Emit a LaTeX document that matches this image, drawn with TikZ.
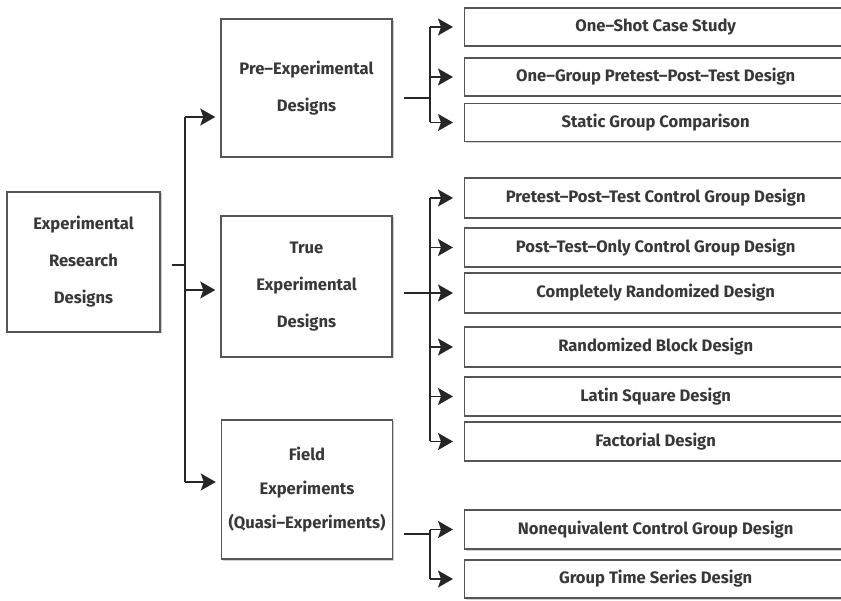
\documentclass[tikz,border=0pt]{standalone}
\usepackage{fontspec}
\setmainfont{Fira Sans}
\usetikzlibrary{arrows.meta,shadows}
\definecolor{boxgray}{HTML}{555555}
\definecolor{textgray}{HTML}{383838}
\tikzset{
  boxbase/.style={draw=boxgray, line width=1.4pt, fill=white, text=textgray,
    font=\fontsize{16.6}{37}\selectfont\bfseries, align=center, inner sep=0pt,
    drop shadow={shadow xshift=1.5pt, shadow yshift=-1.5pt, fill=black!18, opacity=1}},
  catbox/.style={boxbase, minimum width=171pt},
  leafbox/.style={boxbase, minimum width=382pt, minimum height=38pt, anchor=west},
  conn/.style={draw=black!85, line width=1.7pt},
  arr/.style={conn, -{Stealth[length=15pt,width=17pt,inset=3pt]}},
}
\begin{document}
\begin{tikzpicture}[x=1pt,y=-1pt]
\useasboundingbox (0,0) rectangle (841,601);
% root
\node[boxbase, minimum width=153pt, minimum height=140pt] (root) at (83.5,262) {Experimental\\Research\\Designs};
% categories
\node[catbox, minimum height=138pt] (pre) at (306.5,88) {Pre–Experimental\\Designs};
\node[catbox, minimum height=141pt] (true) at (306.5,286.5) {True\\Experimental\\Designs};
\node[catbox, minimum height=139pt, font=\fontsize{16.6}{34}\selectfont\bfseries] (field) at (307,489.5) {Field\\Experiments\\(Quasi–Experiments)};
% leaves
\node[leafbox] (l1) at (464,27) {One–Shot Case Study};
\node[leafbox] (l2) at (464,77) {One–Group Pretest–Post–Test Design};
\node[leafbox] (l3) at (464,122.5) {Static Group Comparison};
\node[leafbox, minimum height=40pt] (l4) at (464,198) {Pretest–Post–Test Control Group Design};
\node[leafbox, minimum height=39pt] (l5) at (464,247.5) {Post–Test–Only Control Group Design};
\node[leafbox, minimum height=40pt] (l6) at (464,293) {Completely Randomized Design};
\node[leafbox, minimum height=40pt] (l7) at (464,347) {Randomized Block Design};
\node[leafbox, minimum height=39pt] (l8) at (464,396.5) {Latin Square Design};
\node[leafbox, minimum height=39pt] (l9) at (464,441.5) {Factorial Design};
\node[leafbox, minimum height=39pt] (l10) at (464,529.5) {Nonequivalent Control Group Design};
\node[leafbox, minimum height=38pt] (l11) at (464,579) {Group Time Series Design};
% junction coordinates
\coordinate (r0) at (172,265);
\coordinate (rj) at (185,265);
\coordinate (rt) at (185,117);
\coordinate (rb) at (185,482);
\coordinate (pj) at (430,98);
\coordinate (tj) at (430,293);
\coordinate (fj) at (430,534);
% main trunk
\draw[conn] (r0) -- (rj);
\draw[conn] (rt) -- (rb);
\draw[arr] (rt) -- ([xshift=-5pt]pre.west |- rt);
\draw[arr] (185,290) -- ([xshift=-5pt]true.west |- 0,290);
\draw[arr] (rb) -- ([xshift=-5pt]field.west |- rb);
% pre branch
\draw[conn] ([xshift=11pt]pre.east |- pj) -- (pj);
\draw[conn] (pj |- l1) -- (pj |- l3);
\foreach \n in {l1,l2,l3}{\draw[arr] (pj |- \n) -- ([xshift=-11pt]\n.west);}
% true branch
\draw[conn] ([xshift=11pt]true.east |- tj) -- (tj);
\draw[conn] (tj |- l4) -- (tj |- l9);
\foreach \n in {l4,l5,l6,l7,l8,l9}{\draw[arr] (tj |- \n) -- ([xshift=-11pt]\n.west);}
% field branch
\draw[conn] ([xshift=11pt]field.east |- fj) -- (fj);
\draw[conn] (fj |- l10) -- (fj |- l11);
\foreach \n in {l10,l11}{\draw[arr] (fj |- \n) -- ([xshift=-11pt]\n.west);}
\end{tikzpicture}
\end{document}
